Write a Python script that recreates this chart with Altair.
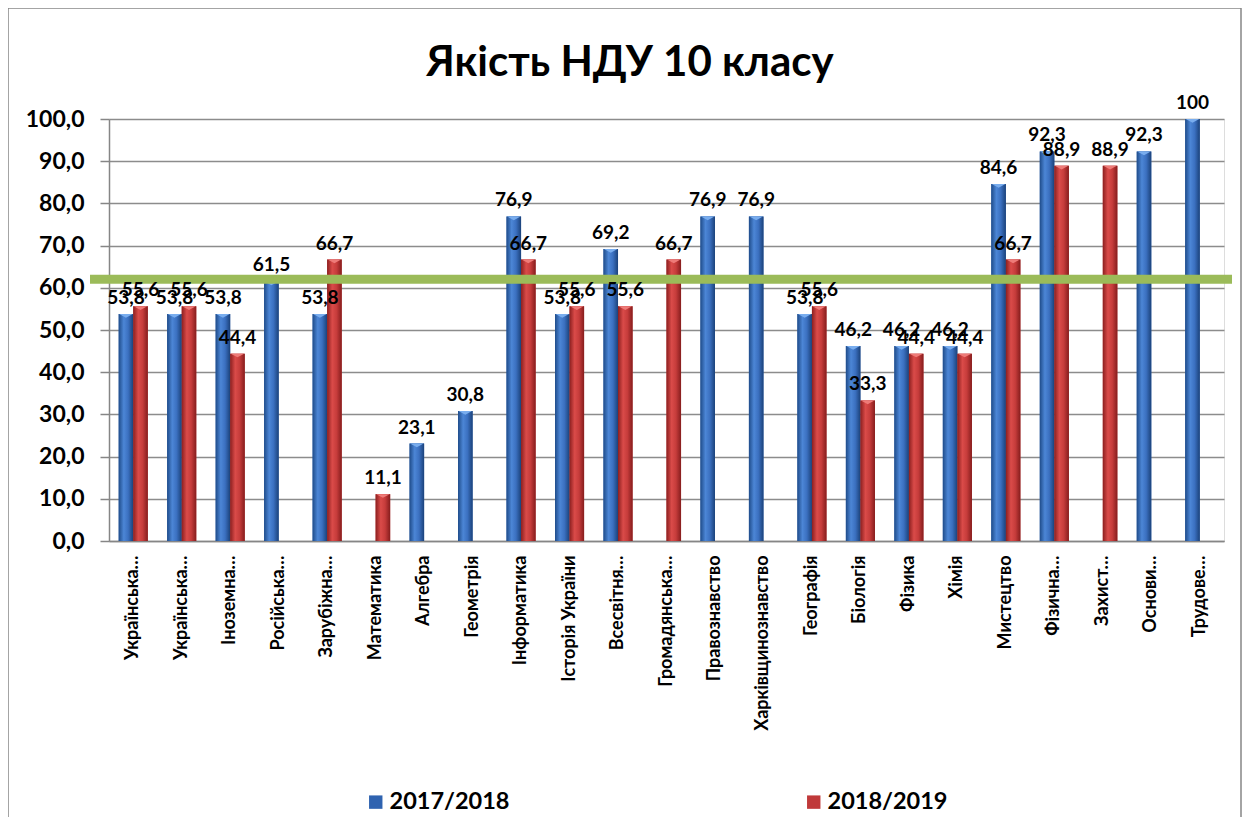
import json
import altair as alt
import pandas as pd

title_text = ["Якість НДУ 10 класу"]
subjects = [
    "Українська мова", "Українська література", "Іноземна мова", "Російська мова",
    "Зарубіжна література", "Математика", "Алгебра", "Геометрія", "Інформатика",
    "Історія України", "Всесвітня історія", "Громадянська освіта", "Правознавство",
    "Харківщинознавство", "Географія", "Біологія", "Фізика", "Хімія", "Мистецтво",
    "Фізична культура", "Захист Вітчизни", "Основи здоров'я", "Трудове навчання",
]
tick_labels = [
    "Українська…", "Українська…", "Іноземна…", "Російська…", "Зарубіжна…",
    "Математика", "Алгебра", "Геометрія", "Інформатика", "Історія України",
    "Всесвітня…", "Громадянська…", "Правознавство", "Харківщинознавство",
    "Географія", "Біологія", "Фізика", "Хімія", "Мистецтво", "Фізична…",
    "Захист…", "Основи…", "Трудове…",
]
series_names = ["2017/2018", "2018/2019"]
values_2017 = [53.8, 53.8, 53.8, 61.5, 53.8, None, 23.1, 30.8, 76.9, 53.8, 69.2, None,
               76.9, 76.9, 53.8, 46.2, 46.2, 46.2, 84.6, 92.3, None, 92.3, 100]
values_2018 = [55.6, 55.6, 44.4, None, 66.7, 11.1, None, None, 66.7, 55.6, 55.6, 66.7,
               None, None, 55.6, 33.3, 44.4, 44.4, 66.7, 88.9, 88.9, None, None]
threshold = [62]


def fmt(v):
    return "100" if v == 100 else f"{v:.1f}".replace(".", ",")


rows = []
for s, vals in zip(series_names, [values_2017, values_2018]):
    for subj, v in zip(subjects, vals):
        if v is not None:
            rows.append({"subject": subj, "series": s, "value": v, "label": fmt(v)})
df = pd.DataFrame(rows)

FONT = "Lato"
label_map = json.dumps(dict(zip(subjects, tick_labels)), ensure_ascii=False)

blue_grad = {
    "gradient": "linear", "x1": 0, "x2": 1, "y1": 0, "y2": 0,
    "stops": [
        {"offset": 0, "color": "#1F4C8A"},
        {"offset": 0.35, "color": "#4C86D6"},
        {"offset": 0.65, "color": "#3B70C0"},
        {"offset": 1, "color": "#1B427A"},
    ],
}
red_grad = {
    "gradient": "linear", "x1": 0, "x2": 1, "y1": 0, "y2": 0,
    "stops": [
        {"offset": 0, "color": "#8C1F1F"},
        {"offset": 0.35, "color": "#DA4B49"},
        {"offset": 0.65, "color": "#C63C3B"},
        {"offset": 1, "color": "#861D1D"},
    ],
}

x_enc = alt.X(
    "subject:N", sort=subjects, title=None,
    scale=alt.Scale(paddingInner=0.40, paddingOuter=0.20),
    axis=alt.Axis(
        labelAngle=-90, labelFont=FONT, labelFontSize=18, labelFontWeight="bold",
        labelColor="black", labelPadding=14, ticks=False, domainColor="#868686",
        domainWidth=1.5, labelExpr=f"{label_map}[datum.value]", labelLimit=400,
    ),
)
xoff = alt.XOffset("series:N", scale=alt.Scale(domain=series_names, paddingInner=0))
y_enc = alt.Y(
    "value:Q", title=None,
    scale=alt.Scale(domain=[0, 100], nice=False),
    axis=alt.Axis(
        values=list(range(0, 101, 10)), labelFont=FONT, labelFontSize=23,
        labelFontWeight="bold", labelColor="black", labelPadding=16,
        labelExpr="replace(format(datum.value, '.1f'), '.', ',')",
        gridColor="#8C8C8C", gridWidth=1.5, tickColor="#868686", tickSize=9,
        tickWidth=1.5, domainColor="#868686", domainWidth=1.5,
    ),
)

base = alt.Chart(df)

solid = base.mark_bar().encode(
    x=x_enc, xOffset=xoff, y=y_enc,
    color=alt.Color(
        "series:N", scale=alt.Scale(domain=series_names, range=["#2F63B0", "#C0393A"]),
        legend=alt.Legend(
            title=None, orient="none", direction="horizontal", legendX=255,
            legendY=671, labelFont=FONT, labelFontSize=23.5, labelFontWeight="bold",
            labelColor="black", symbolType="square", symbolSize=180,
            symbolStrokeWidth=0, columnPadding=292, labelOffset=2,
        ),
    ),
)

grad = base.mark_bar().encode(
    x=x_enc, xOffset=xoff, y=y_enc,
    fill=alt.condition(alt.datum.series == "2017/2018", alt.value(blue_grad), alt.value(red_grad)),
)

caps = base.mark_point(
    shape="M-1,0L1,0L0,0.55Z", filled=True, size=180, opacity=1, strokeWidth=0
).encode(
    x=x_enc, xOffset=xoff, y=y_enc,
    color=alt.condition(alt.datum.series == "2017/2018", alt.value("#79ADEE"), alt.value("#EE7B78")),
)

labels = base.mark_text(
    font=FONT, fontSize=19, fontWeight="bold", color="black", dy=-10,
    baseline="alphabetic",
).encode(x=x_enc, xOffset=xoff, y=y_enc, text="label:N")

rule = alt.Chart(pd.DataFrame({"t": threshold})).mark_rule(
    color="#9BBB59", strokeWidth=9, strokeCap="butt"
).encode(y=alt.Y("t:Q"), x=alt.value(-19), x2=alt.value(1123))

border = alt.Chart(pd.DataFrame({"t": threshold})).mark_rect(
    fill=None, stroke="#868686", strokeWidth=1.5, filled=False
).encode(x=alt.value(-101), x2=alt.value(1132), y=alt.value(-111), y2=alt.value(720))

title = alt.Chart(pd.DataFrame({"t": title_text})).mark_text(
    font=FONT, fontSize=42, fontWeight="bold", color="black",
    align="center", baseline="alphabetic",
).encode(text="t:N", x=alt.value(521), y=alt.value(-43))

chart = alt.layer(border, solid, grad, caps, rule, labels, title).properties(
    width=1115, height=422,
    padding={"left": 101, "top": 111, "right": 18, "bottom": 276},
    autosize=alt.AutoSizeParams(type="none"),
).configure_view(stroke=None).configure(background="white")

chart.save("out.html", embed_options={"renderer": "svg", "actions": False})
